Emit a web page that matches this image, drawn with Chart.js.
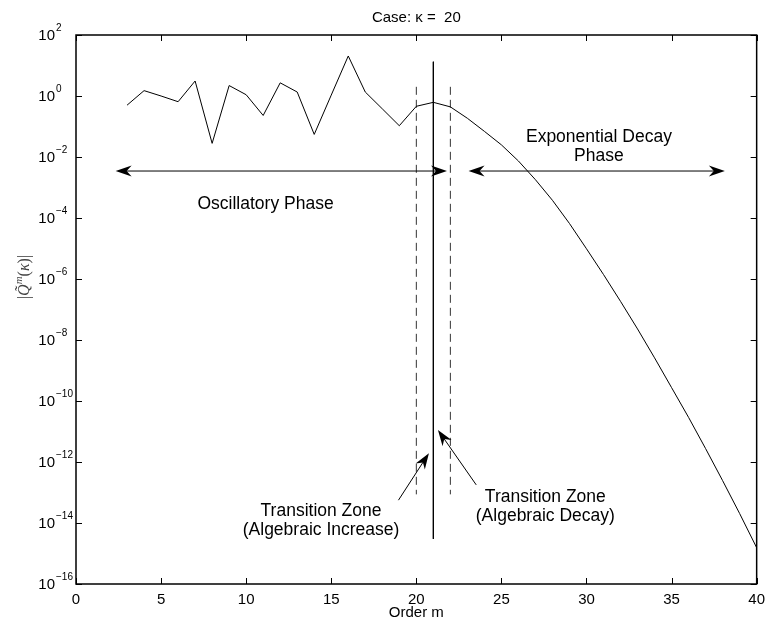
<!DOCTYPE html>
<html>
<head>
<meta charset="utf-8">
<script src="https://cdn.jsdelivr.net/npm/chart.js@4.4.0/dist/chart.umd.min.js"></script>
<style>
  html, body { margin: 0; padding: 0; background: #fff; }
</style>
</head>
<body>
<canvas id="qChart" width="772" height="626"></canvas>
<script>
// order m and |Q~m(kappa)|
var orders = [3, 4, 5, 6, 7, 8, 9, 10, 11, 12, 13, 14, 15, 16, 17, 18, 19, 20, 21, 22,
  23, 24, 25, 26, 27, 28, 29, 30, 31, 32, 33, 34, 35, 36, 37, 38, 39, 40];
var magnitudes = [0.5, 1.5, 1.0, 0.65, 3.1, 0.028, 2.2, 1.1, 0.23, 2.7, 1.35, 0.055, 1.07, 20.5, 1.35, 0.38, 0.106, 0.46, 0.62, 0.44,
  0.186, 0.0693, 0.025, 7.4e-3, 1.8e-3, 3.8e-4, 6.6e-5, 9.8e-6, 1.4e-6, 1.85e-7, 2.3e-8, 2.6e-9, 2.75e-10, 2.9e-11, 2.75e-12, 2.45e-13, 2.04e-14, 1.55e-15];

var xTicks = [0, 5, 10, 15, 20, 25, 30, 35, 40];
var yTickExps = [2, 0, -2, -4, -6, -8, -10, -12, -14, -16];

// transition zone markers: order, top value, bottom value
var zoneOrders = [20, 21, 22];
var zoneTops = [2.0, 13.3, 2.0];
var zoneBottoms = [8.7e-14, 3e-15, 8.7e-14];

// double arrows for the phases (from order, to order, level)
var phaseFrom = [2.33, 23.07];
var phaseTo = [21.8, 38.13];
var phaseLevel = [3.47e-3, 3.47e-3];

// single arrows pointing at the zone (start m, start value, tip m, tip value)
var zoneArrowStart = [[18.95, 5.6e-14], [23.52, 1.78e-13]];
var zoneArrowTip = [[20.74, 1.95e-12], [21.27, 1.12e-11]];

var noteTexts = ["Oscillatory Phase", "Exponential Decay", "Phase", "Transition Zone", "(Algebraic Increase)", "Transition Zone", "(Algebraic Decay)"];
var noteOrders = [11.14, 30.73, 30.73, 14.4, 14.4, 27.58, 27.58];
var noteValues = [2.9e-4, 0.0457, 0.0107, 2.5e-14, 5.9e-15, 7.1e-14, 1.7e-14];

var sans = '"Liberation Sans", Arial, Helvetica, sans-serif';
var serif = '"Liberation Serif", "DejaVu Serif", serif';

var curvePoints = orders.map(function(m, i){ return {x: m, y: magnitudes[i]}; });

var datasets = [{
  data: curvePoints,
  borderColor: '#000',
  borderWidth: 1,
  pointRadius: 0,
  tension: 0
}];
zoneOrders.forEach(function(m, i){
  datasets.push({
    data: [{x: m, y: zoneTops[i]}, {x: m, y: zoneBottoms[i]}],
    borderColor: i == 1 ? '#000' : '#333',
    borderWidth: 1,
    borderDash: i == 1 ? [] : [8, 5],
    pointRadius: 0
  });
});

function arrowHead(ctx, tx, ty, fx, fy) {
  var ang = Math.atan2(ty - fy, tx - fx);
  var L = 16, W = 5.5, N = 11;
  var c = Math.cos(ang), s = Math.sin(ang);
  ctx.beginPath();
  ctx.moveTo(tx, ty);
  ctx.lineTo(tx - L * c - W * s, ty - L * s + W * c);
  ctx.lineTo(tx - N * c, ty - N * s);
  ctx.lineTo(tx - L * c + W * s, ty - L * s - W * c);
  ctx.closePath();
  ctx.fill();
}

var decorations = {
  id: 'decorations',
  afterDatasetsDraw: function(chart) {
    var ctx = chart.ctx, xs = chart.scales.x, ys = chart.scales.y, a = chart.chartArea;
    ctx.save();
    ctx.strokeStyle = '#000';
    ctx.fillStyle = '#000';

    // box
    ctx.lineWidth = 1.5;
    ctx.strokeRect(a.left, a.top, a.right - a.left, a.bottom - a.top);

    // inward ticks on all sides
    ctx.lineWidth = 1;
    ctx.beginPath();
    xTicks.forEach(function(t){
      var x = Math.round(xs.getPixelForValue(t)) + 0.5;
      ctx.moveTo(x, a.bottom); ctx.lineTo(x, a.bottom - 6);
      ctx.moveTo(x, a.top); ctx.lineTo(x, a.top + 6);
    });
    yTickExps.forEach(function(e){
      var y = Math.round(ys.getPixelForValue(Math.pow(10, e))) + 0.5;
      ctx.moveTo(a.left, y); ctx.lineTo(a.left + 6, y);
      ctx.moveTo(a.right, y); ctx.lineTo(a.right - 6, y);
    });
    ctx.stroke();

    // y tick labels 10^e
    yTickExps.forEach(function(e){
      var y = ys.getPixelForValue(Math.pow(10, e));
      ctx.font = '15px ' + sans;
      ctx.textAlign = 'right';
      ctx.textBaseline = 'middle';
      ctx.fillText('10', a.left - 21, y + 1);
      ctx.font = '10px ' + sans;
      ctx.textAlign = 'left';
      ctx.fillText((e < 0 ? '\u2212' : '') + Math.abs(e), a.left - 20, y - 7);
    });

    // phase arrows
    phaseFrom.forEach(function(m, i){
      var y = ys.getPixelForValue(phaseLevel[i]);
      var x1 = xs.getPixelForValue(m), x2 = xs.getPixelForValue(phaseTo[i]);
      ctx.beginPath();
      ctx.moveTo(x1 + 8, y); ctx.lineTo(x2 - 8, y);
      ctx.stroke();
      arrowHead(ctx, x1, y, x2, y);
      arrowHead(ctx, x2, y, x1, y);
    });

    // zone arrows
    zoneArrowStart.forEach(function(p, i){
      var fx = xs.getPixelForValue(p[0]), fy = ys.getPixelForValue(p[1]);
      var tx = xs.getPixelForValue(zoneArrowTip[i][0]), ty = ys.getPixelForValue(zoneArrowTip[i][1]);
      var ang = Math.atan2(ty - fy, tx - fx);
      ctx.beginPath();
      ctx.moveTo(fx, fy);
      ctx.lineTo(tx - 10 * Math.cos(ang), ty - 10 * Math.sin(ang));
      ctx.stroke();
      arrowHead(ctx, tx, ty, fx, fy);
    });

    // notes
    ctx.font = '17.5px ' + sans;
    ctx.textAlign = 'center';
    ctx.textBaseline = 'middle';
    noteTexts.forEach(function(t, i){
      ctx.fillText(t, xs.getPixelForValue(noteOrders[i]), ys.getPixelForValue(noteValues[i]));
    });

    // title
    ctx.font = '15px ' + sans;
    ctx.fillText('Case: \u03ba =  20', (a.left + a.right) / 2, 18);

    // y axis label |Q~^m(kappa)|
    ctx.translate(25, 277);
    ctx.rotate(-Math.PI / 2);
    ctx.fillStyle = '#444';
    ctx.textAlign = 'left';
    ctx.textBaseline = 'middle';
    var parts = [['|', 'normal', 16, 0], ['Q\u0303', 'italic', 16, 0], ['m', 'italic', 11, -6], ['(', 'normal', 16, 0], ['\u03ba', 'italic', 16, 0], [')|', 'normal', 16, 0]];
    var total = 0;
    parts.forEach(function(p){
      ctx.font = p[1] + ' ' + p[2] + 'px ' + serif;
      p.push(ctx.measureText(p[0]).width);
      total += p[4];
    });
    var cx = -total / 2;
    parts.forEach(function(p){
      ctx.font = p[1] + ' ' + p[2] + 'px ' + serif;
      ctx.fillText(p[0], cx, p[3]);
      cx += p[4];
    });

    ctx.restore();
  }
};

new Chart(document.getElementById('qChart'), {
  type: 'line',
  data: { datasets: datasets },
  options: {
    responsive: false,
    animation: false,
    layout: { padding: { top: 35, right: 10, left: 0, bottom: 0 } },
    plugins: { legend: { display: false }, tooltip: { enabled: false }, title: { display: false } },
    scales: {
      x: {
        type: 'linear',
        min: 0, max: 40,
        afterBuildTicks: function(scale){ scale.ticks = xTicks.map(function(v){ return {value: v}; }); },
        afterFit: function(scale){ scale.height = 42; },
        grid: { display: false, drawTicks: false },
        border: { display: false },
        ticks: { color: '#000', padding: 7, maxRotation: 0, font: { size: 15, family: sans } },
        title: { display: true, text: 'Order m', color: '#000', padding: { top: 0, bottom: 4 }, font: { size: 15, family: sans } }
      },
      y: {
        type: 'logarithmic',
        min: 1e-16, max: 100,
        afterBuildTicks: function(scale){ scale.ticks = yTickExps.map(function(e){ return {value: Math.pow(10, e)}; }); },
        afterFit: function(scale){ scale.width = 76; },
        grid: { display: false, drawTicks: false },
        border: { display: false },
        ticks: { display: false }
      }
    }
  },
  plugins: [decorations]
});
</script>
</body>
</html>
